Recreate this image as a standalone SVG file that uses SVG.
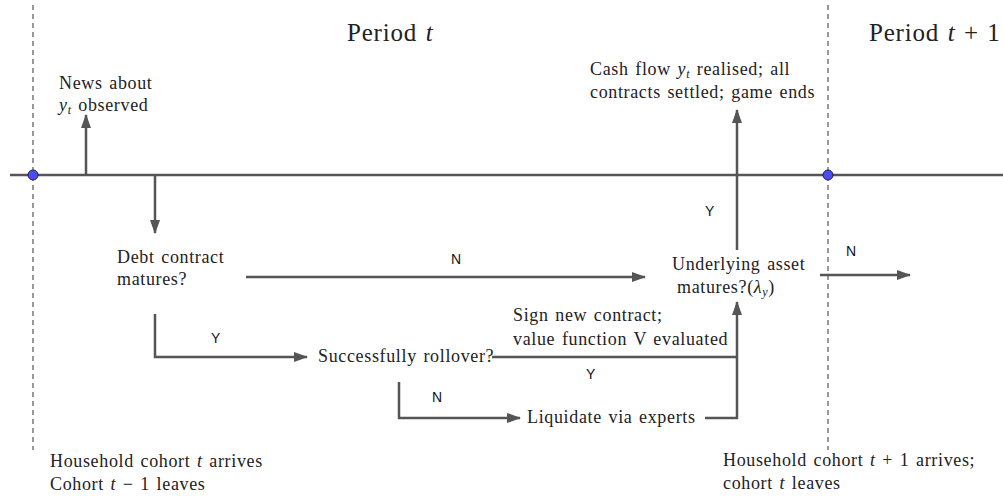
<svg xmlns="http://www.w3.org/2000/svg" width="1003" height="496" viewBox="0 0 1003 496">
<defs>
<marker id="ah" markerWidth="14" markerHeight="10" refX="13" refY="5" orient="auto" markerUnits="userSpaceOnUse">
<path d="M0,0 L14,5 L0,10 Z" fill="#555"/>
</marker>
<style>
.ln{stroke:#555;stroke-width:2.5;fill:none}
.arr{stroke:#555;stroke-width:2.5;fill:none;marker-end:url(#ah)}
.dash{stroke:#555;stroke-width:1.2;stroke-dasharray:5,4;fill:none}
.t{font-family:"Liberation Serif","Times New Roman",serif;font-size:18px;letter-spacing:0.65px;word-spacing:1.5px;fill:#222}
.p{font-family:"Liberation Serif","Times New Roman",serif;font-size:25px;letter-spacing:0.8px;word-spacing:1.5px;fill:#222}
.s{font-family:"Liberation Sans",Arial,sans-serif;font-size:14px;fill:#111}
.i{font-style:italic}
.dot{fill:#4a4aff;stroke:#223;stroke-width:1}
</style>
</defs>
<rect width="1003" height="496" fill="#fff"/>
<g id="grid">
<line class="dash" x1="33" y1="5" x2="33" y2="450"/>
<line class="dash" x1="828" y1="5" x2="828" y2="450"/>
<line class="ln" x1="10" y1="175" x2="1003" y2="175"/>
</g>
<g id="connectors">
<line class="arr" x1="86" y1="175" x2="86" y2="115"/>
<line class="arr" x1="155" y1="175" x2="155" y2="233"/>
<line class="arr" x1="246" y1="277" x2="645" y2="277"/>
<polyline class="arr" points="155,314 155,357 307,357"/>
<polyline class="ln" points="492,357 737,357"/>
<polyline class="arr" points="399,382 399,418 520,418"/>
<polyline class="arr" points="705,418 737,418 737,302"/>
<line class="arr" x1="737" y1="250" x2="737" y2="110"/>
<line class="arr" x1="820" y1="275" x2="910" y2="275"/>
</g>
<g id="dot-t"><circle class="dot" cx="33" cy="175" r="5"/></g>
<g id="dot-t1"><circle class="dot" cx="828" cy="175" r="5"/></g>
<g id="period-t"><text class="p" x="347" y="41">Period <tspan class="i">t</tspan></text></g>
<g id="period-t1"><text class="p" x="869" y="41">Period <tspan class="i">t</tspan> + 1</text></g>
<g id="news"><text class="t" x="59" y="89">News about</text><text class="t" x="59" y="111"><tspan class="i">y</tspan><tspan class="i" font-size="12" dy="3">t</tspan><tspan dy="-3"> observed</tspan></text></g>
<g id="cash"><text class="t" x="590" y="75">Cash flow <tspan class="i">y</tspan><tspan class="i" font-size="12" dy="3">t</tspan><tspan dy="-3"> realised; all</tspan></text><text class="t" x="590" y="98">contracts settled; game ends</text></g>
<g id="debt"><text class="t" x="117" y="263">Debt contract</text><text class="t" x="117" y="285">matures?</text></g>
<g id="rollover"><text class="t" x="318" y="362">Successfully rollover?</text></g>
<g id="sign"><text class="t" x="513" y="321">Sign new contract;</text><text class="t" x="513" y="345">value function V evaluated</text></g>
<g id="liquidate"><text class="t" x="527" y="423">Liquidate via experts</text></g>
<g id="underlying"><text class="t" x="672" y="270">Underlying asset</text><text class="t" x="677" y="293">matures?(<tspan class="i">λ</tspan><tspan class="i" font-size="12" dy="3">y</tspan><tspan dy="-3">)</tspan></text></g>
<g id="cohort-t"><text class="t" x="50" y="467">Household cohort <tspan class="i">t</tspan> arrives</text><text class="t" x="50" y="490">Cohort <tspan class="i">t</tspan> − 1 leaves</text></g>
<g id="cohort-t1"><text class="t" x="723" y="466">Household cohort <tspan class="i">t</tspan> + 1 arrives;</text><text class="t" x="723" y="489">cohort <tspan class="i">t</tspan> leaves</text></g>
<g id="labels">
<text class="s" x="451" y="264">N</text>
<text class="s" x="211" y="343">Y</text>
<text class="s" x="586" y="379">Y</text>
<text class="s" x="432" y="402">N</text>
<text class="s" x="705" y="216">Y</text>
<text class="s" x="846" y="256">N</text>
</g>
</svg>
